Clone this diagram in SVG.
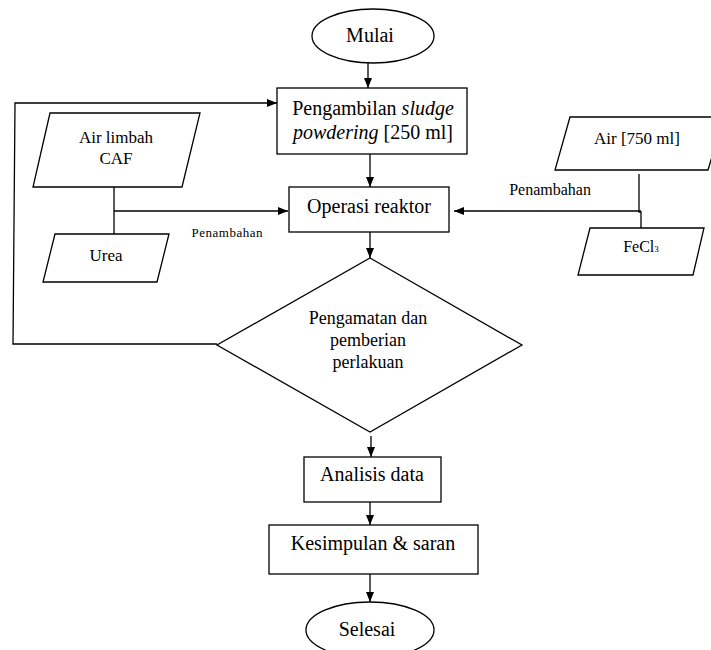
<svg xmlns="http://www.w3.org/2000/svg" width="711" height="650" viewBox="0 0 711 650">
<defs>
<marker id="ah" markerUnits="userSpaceOnUse" markerWidth="10" markerHeight="10" viewBox="0 0 10 10" refX="10" refY="5" orient="auto">
<path d="M0,1 L10,5 L0,9 Z" fill="#000"/>
</marker>
<style>
.s{fill:#fff;stroke:#000;stroke-width:1.3}
.c{fill:none;stroke:#000;stroke-width:1.3}
.a{marker-end:url(#ah)}
text{font-family:"Liberation Serif","Times New Roman",serif;fill:#000;text-anchor:middle}
.b{font-size:20px}
.m{font-size:18px}
.p{font-size:17px}
</style>
</defs>
<rect width="711" height="650" fill="#fff"/>
<g id="connectors">
<line class="c a" x1="368" y1="63" x2="368" y2="88"/>
<line class="c a" x1="370" y1="154" x2="370" y2="187"/>
<line class="c a" x1="370" y1="232" x2="370" y2="258"/>
<line class="c a" x1="371" y1="436" x2="371" y2="457"/>
<line class="c a" x1="370" y1="502" x2="370" y2="525"/>
<line class="c a" x1="370" y1="574" x2="370" y2="602"/>
<polyline class="c a" points="217,344 13,344 15,103 277,103"/>
<line class="c" x1="114" y1="187" x2="114" y2="234"/>
<line class="c a" x1="114" y1="211" x2="288" y2="211"/>
<polyline class="c" points="639,174 639,212 641,212 641,228"/>
<line class="c a" x1="641" y1="211" x2="454" y2="211"/>
<text x="227" y="237" style="font-size:13px" textLength="71">Penambahan</text>
<text x="550" y="195" style="font-size:16px">Penambahan</text>
</g>
<g id="mulai">
<ellipse class="s" cx="373" cy="36" rx="61" ry="27"/>
<text class="b" x="370" y="42">Mulai</text>
</g>
<g id="pengambilan">
<rect class="s" x="277" y="88" width="190" height="66"/>
<text class="b" x="373" y="115">Pengambilan <tspan font-style="italic">sludge</tspan></text>
<text class="b" x="373" y="139"><tspan font-style="italic">powdering</tspan> [250 ml]</text>
</g>
<g id="air-limbah">
<polygon class="s" points="50,113 200,113 182,187 33,187"/>
<text class="p" x="116" y="143">Air limbah</text>
<text class="p" x="116" y="164">CAF</text>
</g>
<g id="urea">
<polygon class="s" points="55,234 169,234 157,282 43,282"/>
<text class="p" x="106" y="261">Urea</text>
</g>
<g id="air">
<polygon class="s" points="570,117 724,117 708,170 555,170"/>
<text class="p" x="637" y="144">Air [750 ml]</text>
</g>
<g id="fecl3">
<polygon class="s" points="590,228 704,228 693,275 578,275"/>
<text style="font-size:16px" x="641" y="252">FeCl<tspan font-size="9px">3</tspan></text>
</g>
<g id="operasi">
<rect class="s" x="289" y="187" width="160" height="45"/>
<text class="b" x="369" y="213">Operasi reaktor</text>
</g>
<g id="pengamatan">
<polygon class="s" points="370,258 522,345 370,432 217,345"/>
<text class="m" x="368" y="324">Pengamatan dan</text>
<text class="m" x="368" y="346">pemberian</text>
<text class="m" x="368" y="368">perlakuan</text>
</g>
<g id="analisis">
<rect class="s" x="304" y="457" width="137" height="45"/>
<text class="b" x="372" y="481">Analisis data</text>
</g>
<g id="kesimpulan">
<rect class="s" x="269" y="525" width="209" height="49"/>
<text class="b" x="373" y="550">Kesimpulan &amp; saran</text>
</g>
<g id="selesai">
<ellipse class="s" cx="370" cy="630" rx="64" ry="28"/>
<text class="b" x="367" y="636">Selesai</text>
</g>
</svg>
